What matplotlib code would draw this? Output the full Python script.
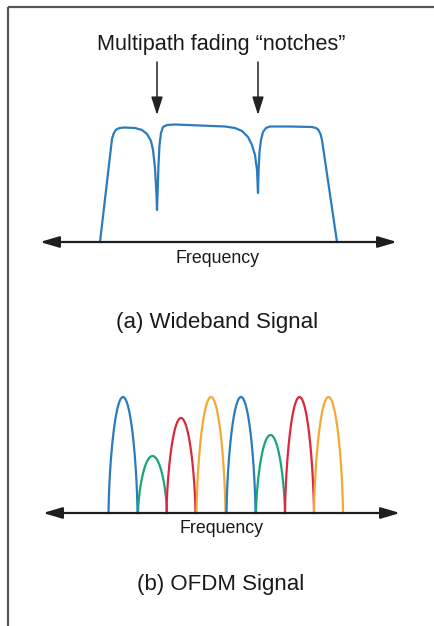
import numpy as np
import matplotlib
matplotlib.use("Agg")
import matplotlib.pyplot as plt
from matplotlib.patches import FancyArrowPatch

# ---------------- data ----------------
# (a) wideband signal spectrum with two multipath notches
wb_freq = [60, 72, 73.5, 75, 77, 80, 84, 95, 102, 107, 111, 113, 115, 116.5, 117, 117.7, 118.5, 119.5,
           121, 123, 127, 135, 160, 185, 195, 202, 208, 212, 215, 217, 218, 218.6, 219.5,
           221, 223, 226, 230, 250, 272, 276, 278.5, 280.5, 282, 297]
wb_amp = [0, 103, 108, 111, 113, 114, 114.5, 114, 112, 108, 101, 92, 74, 47, 32, 52, 77, 97,
          109, 115, 117, 117.5, 116.5, 115.5, 114, 111, 105, 97, 87, 72, 49, 72, 90,
          102, 110, 114, 115.5, 115.5, 115, 114, 112, 108, 102, 0]
notch_freq = [117, 218]

# (b) OFDM sub-carriers
sub_center = [80, 109.5, 138, 168, 198, 227.5, 256.5, 285.5]
sub_height = [116, 57, 95, 116, 116, 78, 116, 116]
sub_colors = ["#2b7bbf", "#1ba37c", "#d9283f", "#f4a934",
              "#2b7bbf", "#1ba37c", "#d9283f", "#f4a934"]

title_top = "Multipath fading \u201cnotches\u201d"
axis_label = "Frequency"
caption_a = "(a) Wideband Signal"
caption_b = "(b) OFDM Signal"

# ---------------- figure ----------------
W, H = 435, 626
fig = plt.figure(figsize=(W / 100, H / 100), dpi=100)
plt.rcParams["font.family"] = ["Liberation Sans", "DejaVu Sans"]

ax0 = fig.add_axes([0, 0, 1, 1])
ax0.set_xlim(0, W)
ax0.set_ylim(H, 0)
ax0.axis("off")

# frame
ax0.plot([8, 8], [7, H], color="#555555", lw=1.6, solid_capstyle="butt")
ax0.plot([8, W], [7, 7], color="#555555", lw=1.6, solid_capstyle="butt")

txt = "#1a1a1a"
ax0.text(221, 50, title_top, ha="center", va="baseline", fontsize=15.6, color=txt)
ax0.text(218, 263, axis_label, ha="center", va="baseline", fontsize=12.8, color=txt)
ax0.text(217, 328, caption_a, ha="center", va="baseline", fontsize=16, color=txt)
ax0.text(222, 533, axis_label, ha="center", va="baseline", fontsize=12.8, color=txt)
ax0.text(221, 590, caption_b, ha="center", va="baseline", fontsize=16, color=txt)


def make_axes(left_px, right_px, base_px, height_px):
    ax = fig.add_axes([left_px / W, (H - base_px) / H,
                       (right_px - left_px) / W, height_px / H])
    ax.set_xlim(0, right_px - left_px)
    ax.set_ylim(0, height_px)
    ax.axis("off")
    return ax


def freq_axis(ax):
    x1 = ax.get_xlim()[1]
    arr = FancyArrowPatch((0, 0), (x1, 0), transform=ax.transData,
                          arrowstyle="<|-|>,head_length=11.5,head_width=3.4",
                          mutation_scale=1, color="#1e1e1e", lw=1.6,
                          shrinkA=0, shrinkB=0, clip_on=False, zorder=3)
    ax.add_patch(arr)


# (a) wideband panel
ax1 = make_axes(40, 397, 242, 130)
ax1.plot(wb_freq, wb_amp, color="#2b7bbf", lw=1.6, solid_joinstyle="round",
         clip_on=False, zorder=2)
freq_axis(ax1)
for nf in notch_freq:
    ax1.annotate("", xy=(nf, 127), xytext=(nf, 180), xycoords="data",
                 arrowprops=dict(arrowstyle="-|>,head_length=1.1,head_width=0.35",
                                 color="#222222", lw=1.1, shrinkA=0, shrinkB=0,
                                 mutation_scale=10),
                 annotation_clip=False)

# (b) OFDM panel
ax2 = make_axes(43, 400, 513, 130)
half_w = 14.5
u = np.linspace(-1, 1, 301)
for c, h, col in zip(sub_center, sub_height, sub_colors):
    y = h * np.clip(1 - u ** 2, 0, None) ** 0.65
    ax2.plot(c + half_w * u, y, color=col, lw=1.6, clip_on=False, zorder=2)
freq_axis(ax2)

fig.savefig("out.png", dpi=100)
